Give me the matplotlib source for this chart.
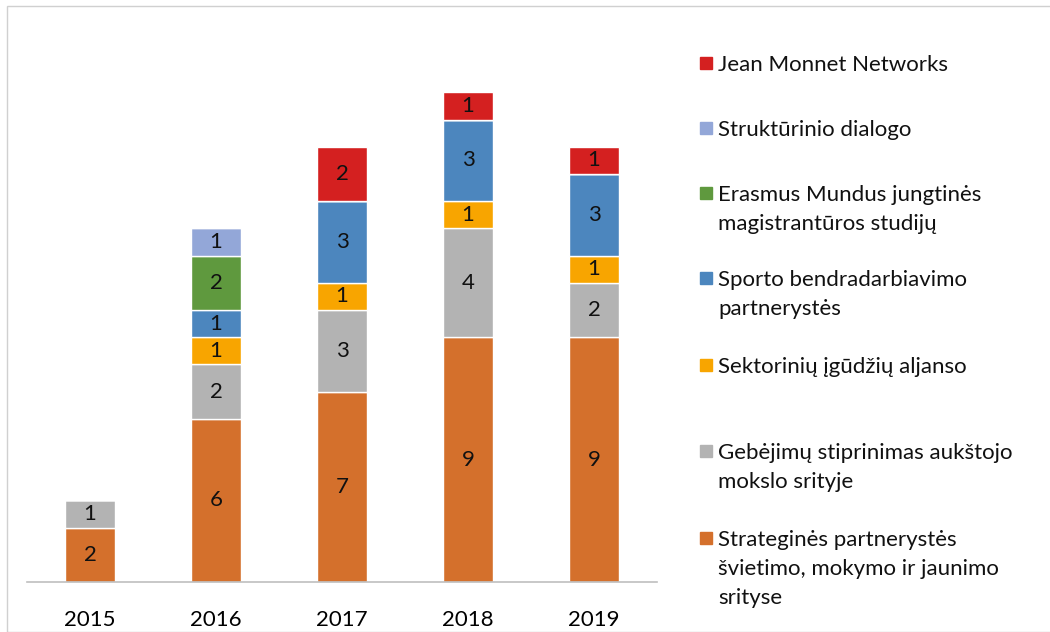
import matplotlib.pyplot as plt
from matplotlib.patches import Rectangle
import numpy as np

plt.rcParams['font.family'] = ['Lato', 'DejaVu Sans']

years = ['2015', '2016', '2017', '2018', '2019']
series = [
    'Strateginės partnerystės\nšvietimo, mokymo ir jaunimo\nsrityse',
    'Gebėjimų stiprinimas aukštojo\nmokslo srityje',
    'Sektorinių įgūdžių aljanso',
    'Sporto bendradarbiavimo\npartnerystės',
    'Erasmus Mundus jungtinės\nmagistrantūros studijų',
    'Struktūrinio dialogo',
    'Jean Monnet Networks',
]
strateginės = [2, 6, 7, 9, 9]
gebejimu = [1, 2, 3, 4, 2]
sektoriniu = [0, 1, 1, 1, 1]
sporto = [0, 1, 3, 3, 3]
erasmus = [0, 2, 0, 0, 0]
strukturinio = [0, 1, 0, 0, 0]
jean_monnet = [0, 0, 2, 1, 1]
values = [strateginės, gebejimu, sektoriniu, sporto, erasmus, strukturinio, jean_monnet]
colors = ['#D4702C', '#B3B3B3', '#F8A500', '#4C86BE', '#5F993E', '#93A7D8', '#D42020']

W, H = 1050, 632
fig = plt.figure(figsize=(W / 100, H / 100), dpi=100)
ax = fig.add_axes([27 / W, 50 / H, 630 / W, (582 - 38) / H])

x = np.arange(len(years))
bottom = np.zeros(len(years))
for vals, col in zip(values, colors):
    vals = np.array(vals, dtype=float)
    bars = ax.bar(x, vals, width=0.4, bottom=bottom, color=col,
                  edgecolor='white', linewidth=1)
    for b, v in zip(bars, vals):
        if v > 0:
            ax.text(b.get_x() + b.get_width() / 2, b.get_y() + v / 2, f'{int(v)}',
                    ha='center', va='center', fontsize=16, color='#111111')
    bottom += vals

ax.set_xlim(-0.5, len(years) - 0.5)
ax.set_ylim(0, 20)
ax.set_yticks([])
ax.set_xticks(x)
ax.set_xticklabels(years, fontsize=16)
ax.tick_params(axis='x', length=0, pad=20)
for s in ['top', 'right', 'left']:
    ax.spines[s].set_visible(False)
ax.spines['bottom'].set_color('#BFBFBF')
ax.spines['bottom'].set_linewidth(1.2)

# legend drawn by hand: top entry is Jean Monnet
leg_y = [63, 128, 193, 278, 365, 451, 538]
for (label, col), ly in zip(list(zip(series, colors))[::-1], leg_y):
    fig.patches.append(Rectangle(((700) / W, 1 - (ly + 6) / H), 12 / W, 12 / H,
                                 transform=fig.transFigure, color=col))
    fig.text(718 / W, 1 - (ly - 8) / H, label, ha='left', va='top',
             fontsize=16, linespacing=1.55, color='#111111')

# outer frame
fig.patches.append(Rectangle((7 / W, 0), 1.2, (H - 6) / H, transform=fig.transFigure,
                             fill=False, edgecolor='#D0D0D0', linewidth=1))

fig.savefig('out.png', dpi=100)
